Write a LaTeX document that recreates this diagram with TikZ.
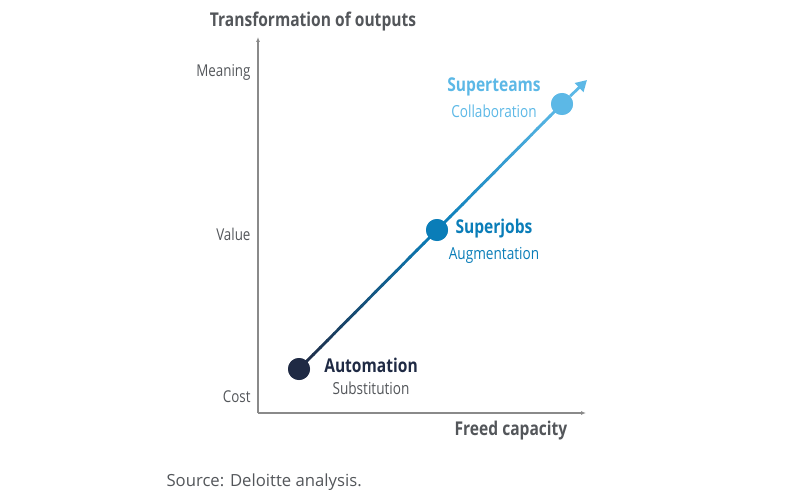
\documentclass[tikz,border=0pt]{standalone}
\usepackage{fontspec}
\setmainfont[FakeStretch=0.82]{Open Sans}
\newfontfamily\srcfont{Open Sans}
\usetikzlibrary{arrows.meta,calc,positioning}
\definecolor{navy}{HTML}{1F2A44}
\definecolor{dblue}{HTML}{0A7DB8}
\definecolor{lblue}{HTML}{5CB8E6}
\definecolor{txtgray}{HTML}{53565A}
\definecolor{axisgray}{HTML}{8A8A8A}

\begin{document}
\begin{tikzpicture}[x=1pt,y=-1pt,
    axis/.style={draw=axisgray, line width=1.3pt, -{Latex[length=5pt,width=4pt]}},
    dot/.style={circle, inner sep=0pt, minimum size=22pt},
    head/.style={font=\bfseries\fontsize{19}{19}\selectfont},
    sub/.style={font=\fontsize{16.6}{16.6}\selectfont, inner sep=0pt},
    tick/.style={anchor=east, text=txtgray, font=\fontsize{16.3}{16.3}\selectfont}]

    \useasboundingbox (0,0) rectangle (794,500);

    % axes
    \coordinate (origin) at (258,413);
    \coordinate (ytop) at (258,37);
    \coordinate (xend) at (586,413);
    \draw[axis] (origin) -- (ytop);
    \draw[axis] (origin) -- (xend);

    \node[head, text=txtgray] (ytitle) at (313,22) {Transformation of outputs};
    \node[head, text=txtgray] (xtitle) at (511,431) {Freed capacity};

    \node[tick] (meaning) at (254,72) {Meaning};
    \node[tick] (value) at (254,234) {Value};
    \node[tick] (cost) at (254,397) {Cost};

    % stages
    \node[dot, fill=navy] (auto) at (299,369) {};
    \node[dot, fill=dblue] (jobs) at (437,230) {};
    \node[dot, fill=lblue] (teams) at (562,104) {};
    \coordinate (tip) at (587,80);

    \foreach \i [evaluate=\i as \pct using 100*\i/19] in {0,...,19}
        \draw[line width=2.8pt, dblue!\pct!navy]
            ($(auto)!\i/20!(jobs)$) -- ($(auto)!\i/20+0.06!(jobs)$);
    \foreach \i [evaluate=\i as \pct using 100*\i/19] in {0,...,19}
        \draw[line width=2.8pt, lblue!\pct!dblue]
            ($(jobs)!\i/20!(teams)$) -- ($(jobs)!\i/20+0.06!(teams)$);
    \draw[line width=2.8pt, lblue, -{Triangle[length=11pt,width=12pt]}] (teams) -- (tip);

    \node[dot, fill=navy] at (auto) {};
    \node[dot, fill=dblue] at (jobs) {};
    \node[dot, fill=lblue] at (teams) {};

    \node[head, text=navy] (autohead) at (371,365) {Automation};
    \node[sub, text=txtgray, below=5.5pt of autohead] (autosub) {Substitution};
    \node[head, text=dblue] (jobshead) at (494,229) {Superjobs};
    \node[sub, text=dblue, below=5pt of jobshead] (jobssub) {Augmentation};
    \node[head, text=lblue] (teamshead) at (494,87) {Superteams};
    \node[sub, text=lblue, below=5pt of teamshead] (teamssub) {Collaboration};

    \node[anchor=west, text=txtgray, font=\srcfont\fontsize{16.7}{16.7}\selectfont] (source) at (163,482) {Source: Deloitte analysis.};
\end{tikzpicture}
\end{document}
